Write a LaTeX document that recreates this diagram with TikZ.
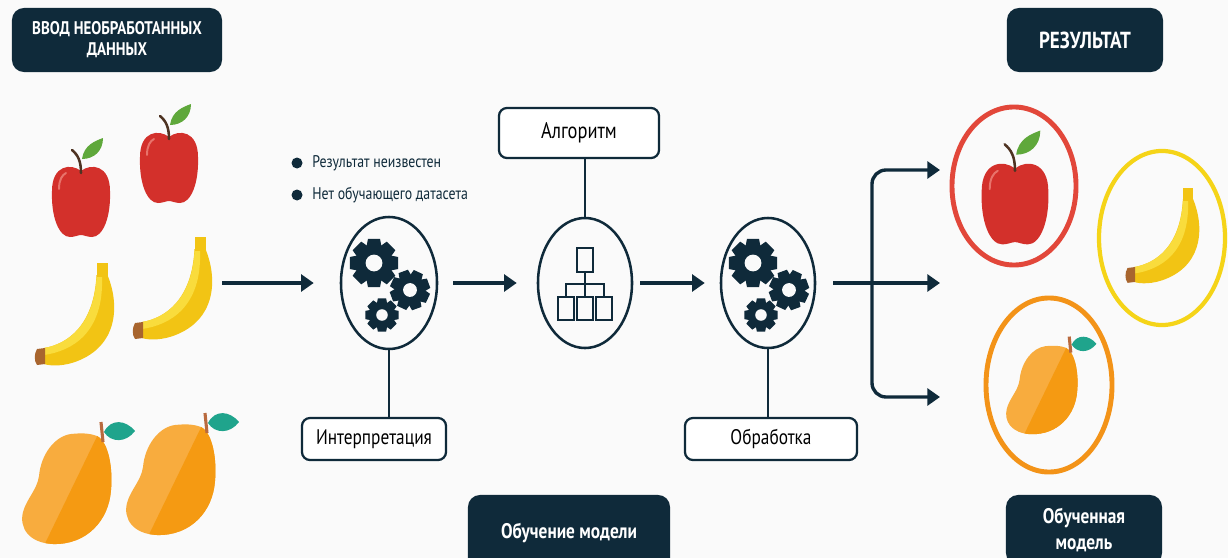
\documentclass[tikz,border=0pt]{standalone}
\usepackage{fontspec}
\setmainfont{PT Sans}[FakeStretch=0.82]
\usetikzlibrary{arrows.meta,shapes.geometric,positioning}

\definecolor{ink}{HTML}{0F2A3A}
\definecolor{paper}{HTML}{FAFAFA}
\definecolor{applered}{HTML}{D3302B}
\definecolor{applehi}{HTML}{E8736B}
\definecolor{leafgreen}{HTML}{5FA83B}
\definecolor{stembrown}{HTML}{4E3322}
\definecolor{bananay}{HTML}{F2C414}
\definecolor{bananahi}{HTML}{F9DC3C}
\definecolor{bananatip}{HTML}{A8652E}
\definecolor{mangolo}{HTML}{F8AC3E}
\definecolor{mangohi}{HTML}{F59A12}
\definecolor{mangoleaf}{HTML}{1FA48C}
\definecolor{mangostem}{HTML}{B96A3E}
\definecolor{ringred}{HTML}{E2473A}
\definecolor{ringyellow}{HTML}{F5D418}
\definecolor{ringorange}{HTML}{F39318}

\tikzset{
  % fruit pictures, drawn in pixel units (y grows downwards)
  apple/.pic={
    \fill[applered] (0,-30) .. controls (10,-38) and (29,-36) .. (29,-10)
      .. controls (30,16) and (22,36) .. (11,36) .. controls (6,36) and (3,34) .. (0,34)
      .. controls (-3,34) and (-6,36) .. (-11,36) .. controls (-22,36) and (-30,16) .. (-29,-10)
      .. controls (-29,-36) and (-10,-38) .. cycle;
    \draw[applehi, line width=1.4pt, line cap=round] (-22,-12) .. controls (-22,-21) and (-19,-26) .. (-15,-28);
    \draw[stembrown, line width=1.8pt, line cap=round] (0,-28) .. controls (0,-40) and (-3,-46) .. (-9,-51);
    \fill[leafgreen] (1,-42) .. controls (3,-56) and (14,-60) .. (22,-63) .. controls (22,-50) and (13,-42) .. cycle;
  },
  banana/.pic={
    \fill[bananay] (-5.5,0) rectangle (5.5,18);
    \fill[bananay] (5.5,12) .. controls (17,40) and (17,80) .. (-22,97)
      .. controls (-38,104) and (-52,103) .. (-58,101) -- (-58,85)
      .. controls (-34,81) and (-8,62) .. (-5.5,12) -- cycle;
    \fill[bananahi] (-5.5,14) .. controls (-8,62) and (-34,81) .. (-58,85) -- (-58,92)
      .. controls (-30,88) and (2,70) .. (0,14) -- cycle;
    \fill[bananatip] (-57,85) -- (-65,86) .. controls (-68,91) and (-68,98) .. (-65,102) -- (-57,101) -- cycle;
  },
  mango/.pic={
    \begin{scope}
      \clip (30,-54) .. controls (42,-48) and (46,-20) .. (44,0)
        .. controls (42,30) and (20,55) .. (-14,54) .. controls (-38,53) and (-48,38) .. (-44,22)
        .. controls (-40,8) and (-30,0) .. (-28,-14) .. controls (-26,-36) and (-12,-54) .. (4,-56)
        .. controls (14,-57) and (22,-57) .. (30,-54) -- cycle;
      \fill[mangolo] (-60,-70) rectangle (60,70);
      \fill[mangohi] (38,-70) -- (60,-70) -- (60,70) -- (-30,70) -- cycle;
    \end{scope}
    \draw[mangostem, line width=2.2pt] (36,-48) -- (34,-68);
    \fill[mangoleaf] (37,-58) .. controls (44,-72) and (59,-70) .. (68,-59) .. controls (59,-47) and (44,-47) .. cycle;
  },
  gear/.pic={
    \fill[ink] (0,0) circle (16.5);
    \foreach \a in {0,45,...,315}
      \fill[ink, rotate=\a] (-7,13) -- (-5.4,21.5) -- (5.4,21.5) -- (7,13) -- cycle;
    \fill[paper] (0,0) circle (7.5);
  },
  gearset/.pic={
    \pic[scale=1.12] at (-15,-20) {gear};
    \pic[scale=0.92, rotate=20] at (21,7) {gear};
    \pic[scale=0.77] at (-7,32) {gear};
  },
}

\begin{document}
\begin{tikzpicture}[x=0.025cm, y=-0.025cm,
    banner/.style={fill=ink, rounded corners=0.3cm, text=white, align=center,
      font=\bfseries\fontsize{15}{18}\selectfont},
    tag/.style={draw=ink, line width=1.6pt, fill=white, rounded corners=0.2cm,
      minimum height=1.05cm, font=\fontsize{15}{17}\selectfont},
    stage/.style={ellipse, draw=ink, line width=1.8pt, minimum width=2.4cm, minimum height=3.3cm},
    ring/.style={ellipse, line width=3.5pt, minimum width=3.15cm, minimum height=4.35cm},
    note/.style={anchor=west, inner sep=0pt, text=ink, font=\fontsize{12}{14}\selectfont},
    flow/.style={draw=ink, line width=2.4pt, -{Triangle[length=9pt, width=12pt]}},
    link/.style={draw=ink, line width=1.6pt}]
  \useasboundingbox (0,0) rectangle (1228,558);
  \fill[paper] (0,0) rectangle (1228,558);

  % headings
  \node[banner, minimum width=5.25cm, minimum height=1.6cm, font=\bfseries\fontsize{13}{15}\selectfont]
    (input) at (117,40) {ВВОД НЕОБРАБОТАННЫХ\\ДАННЫХ};
  \node[banner, minimum width=3.9cm, minimum height=1.6cm, font=\bfseries\fontsize{16.5}{18}\selectfont]
    (result) at (1085,40) {РЕЗУЛЬТАТ};
  \node[banner, minimum width=5.05cm, minimum height=1.9cm] (training) at (569,533) {Обучение модели};
  \node[banner, minimum width=3.9cm, minimum height=1.75cm] (trained) at (1084,530) {Обученная\\модель};

  % raw fruit
  \pic at (81,201) {apple};
  \pic at (169,167) {apple};
  \pic at (102,263) {banana};
  \pic at (200,237) {banana};
  \pic at (67,490) {mango};
  \pic at (171,481) {mango};

  % model stages
  \node[stage] (proc1) at (389,283) {};
  \node[stage, minimum width=2.35cm, minimum height=3.25cm] (alg) at (585,283) {};
  \node[stage, minimum width=2.35cm, minimum height=3.25cm] (proc2) at (768,283) {};
  \pic at (proc1) {gearset};
  \pic at (proc2) {gearset};
  \begin{scope}[shift={(alg.center)}, ink, line width=1.8pt]
    \draw (-8,-35) rectangle (8,-11);
    \draw (0,-11) -- (0,1) (-19,14) -- (-19,1) -- (19,1) -- (19,14) (0,1) -- (0,14);
    \draw (-27,14) rectangle (-11,37) (-8,14) rectangle (8,37) (11,14) rectangle (27,37);
  \end{scope}

  \node[tag, minimum width=4cm, minimum height=1.25cm, font=\fontsize{16}{18}\selectfont] (algo) at (579,133) {Алгоритм};
  \node[tag, minimum width=3.6cm] (interp) at (374,439) {Интерпретация};
  \node[tag, minimum width=4.3cm] (handle) at (771,439) {Обработка};
  \draw[link] (alg.north) -- (alg.north |- algo.south);
  \draw[link] (proc1.south) -- (proc1.south |- interp.north);
  \draw[link] (proc2.south) -- (proc2.south |- handle.north);

  \node[note] (note1) at (312,163) {Результат неизвестен};
  \node[note] (note2) at (312,195) {Нет обучающего датасета};
  \fill[ink] (297,163) circle (5.5);
  \fill[ink] (297,195) circle (5.5);

  % flow between stages
  \coordinate (fruitsout) at (222,283);
  \coordinate (split) at (872,283);
  \coordinate (toparr) at (940,170);
  \coordinate (midarr) at (940,283);
  \coordinate (botarr) at (940,397);
  \draw[flow, shorten >=0.65cm] (fruitsout) -- (proc1);
  \draw[flow, shorten <=0.375cm, shorten >=0.5cm] (proc1) -- (alg);
  \draw[flow, shorten <=0.175cm, shorten >=0.375cm] (alg) -- (proc2);
  \draw[flow, shorten <=0.425cm] (proc2) -- (midarr);
  \draw[flow, rounded corners=0.35cm] (split) |- (toparr);
  \draw[flow, rounded corners=0.35cm] (split) |- (botarr);

  % sorted results
  \node[ring, draw=ringred, minimum width=3.1cm, minimum height=3.95cm] (redring) at (1014,186) {};
  \node[ring, draw=ringyellow, line width=3pt] (yellowring) at (1162,238) {};
  \node[ring, draw=ringorange] (orangering) at (1049,385) {};
  \pic[scale=1.15] at (1015,203) {apple};
  \pic[scale=0.93] at (1188,188) {banana};
  \pic[scale=0.8] at (1042,391) {mango};
\end{tikzpicture}
\end{document}
